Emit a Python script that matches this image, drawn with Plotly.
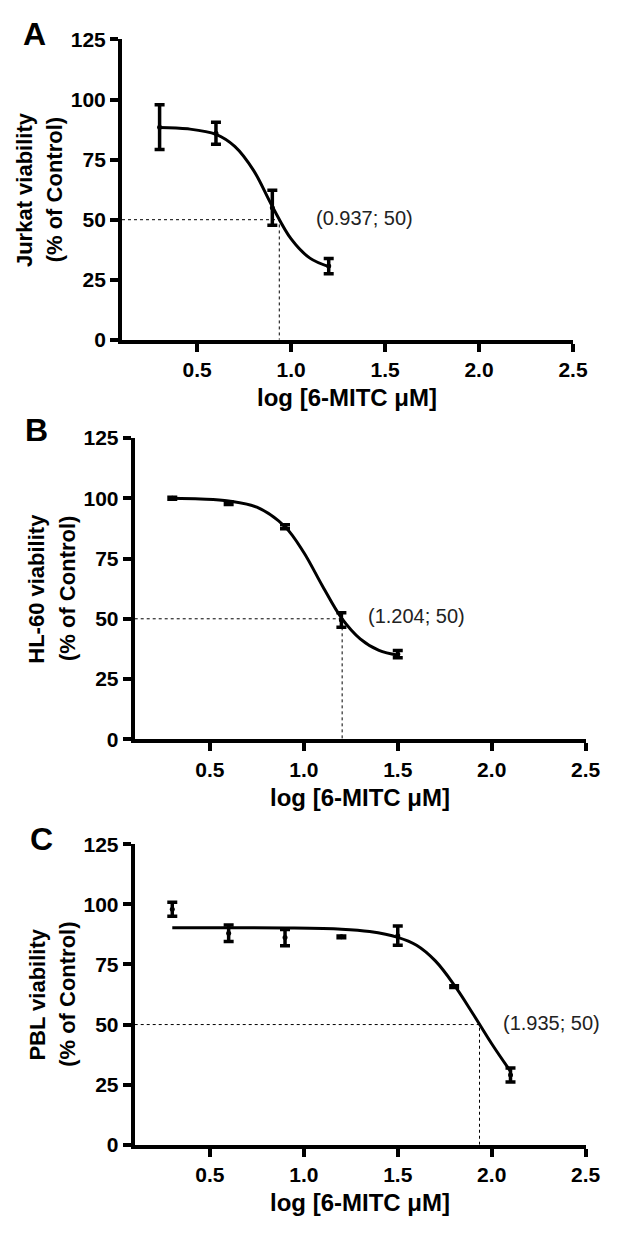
import plotly.graph_objects as go

# 数据: log 浓度, 平均值, 误差
dose_a = [0.3, 0.6, 0.9, 1.2]
mean_a = [88.5, 86.0, 55.0, 30.7]
err_a = [9.3, 4.6, 7.3, 3.2]

dose_b = [0.3, 0.6, 0.9, 1.2, 1.5]
mean_b = [100.0, 98.0, 88.2, 49.5, 35.3]
err_b = [0.4, 0.6, 0.8, 3.0, 1.5]

dose_c = [0.3, 0.6, 0.9, 1.2, 1.5, 1.8, 2.1]
mean_c = [98.0, 88.0, 86.2, 86.5, 87.0, 65.8, 29.0]
err_c = [2.9, 3.4, 3.4, 0.4, 4.0, 0.4, 2.9]

# 拟合曲线 (从图中读取的点)
fit_x_a = [0.3, 0.45, 0.6, 0.7, 0.8, 0.9, 1.0, 1.1, 1.2]
fit_y_a = [88.4, 87.8, 85.5, 80.5, 70.5, 55.5, 42.0, 34.0, 30.5]

fit_x_b = [0.3, 0.45, 0.6, 0.75, 0.9, 1.0, 1.1, 1.2, 1.3, 1.4, 1.5]
fit_y_b = [100.0, 99.7, 98.9, 96.3, 88.2, 77.5, 63.5, 50.4, 41.7, 36.9, 34.9]

fit_x_c = [0.3, 0.6, 0.9, 1.2, 1.35, 1.5, 1.6, 1.7, 1.8, 1.9, 2.0, 2.1]
fit_y_c = [90.3, 90.3, 90.2, 89.7, 88.7, 86.3, 83.0, 76.5, 66.5, 54.5, 42.0, 30.5]

ic50 = [0.937, 1.204, 1.935]
cell_lines = ["Jurkat", "HL-60", "PBL"]
letters = ["A", "B", "C"]

x_ticks = [0.5, 1.0, 1.5, 2.0, 2.5]
x_ticktext = ["0.5", "1.0", "1.5", "2.0", "2.5"]
y_ticks = [0, 25, 50, 75, 100, 125]

panels = [
    (dose_a, mean_a, err_a, fit_x_a, fit_y_a),
    (dose_b, mean_b, err_b, fit_x_b, fit_y_b),
    (dose_c, mean_c, err_c, fit_x_c, fit_y_c),
]

W, H = 628, 1246
FONT = "Liberation Sans, Arial, sans-serif"


def px(x):
    return x / W


def py(y):
    return 1 - y / H


# 每个面板的绘图区 (左, 右, 上, 下) 像素
boxes = [(125, 587, 28, 334), (138, 600, 434, 741), (138, 600, 848, 1154)]
letter_pos = [(35, 22), (37, 426), (43, 843)]
label_pos = [(1.123, 50.6), (1.329, 51.3), (2.048, 50.8)]

fig = go.Figure()
annotations = []
layout = {}

for i, (dose, mean, err, fx, fy) in enumerate(panels):
    n = "" if i == 0 else str(i + 1)
    xa, ya = "x" + n, "y" + n

    # IC50 虚线
    fig.add_trace(go.Scatter(
        x=[0.1, ic50[i], ic50[i]], y=[50, 50, 0], mode="lines",
        line=dict(color="black", width=1, dash="dot"),
        xaxis=xa, yaxis=ya, showlegend=False, hoverinfo="skip"))

    # 拟合曲线
    fig.add_trace(go.Scatter(
        x=fx, y=fy, mode="lines",
        line=dict(color="black", width=3, shape="spline"),
        xaxis=xa, yaxis=ya, showlegend=False))

    # 数据点与误差棒
    fig.add_trace(go.Scatter(
        x=dose, y=mean, mode="markers",
        marker=dict(color="black", size=5),
        error_y=dict(type="data", array=err, visible=True,
                     color="black", thickness=3.5, width=5),
        xaxis=xa, yaxis=ya, showlegend=False))

    l, r, t, b = boxes[i]
    layout["xaxis" + n] = dict(
        domain=[px(l), px(r)], anchor=ya, range=[0.1, 2.5],
        tickvals=x_ticks, ticktext=x_ticktext,
        showline=True, linewidth=4, linecolor="black",
        ticks="outside", ticklen=8, tickwidth=3.5, tickcolor="black",
        showgrid=False, zeroline=False,
        tickfont=dict(family=FONT, size=21, color="black", weight="bold"))
    layout["yaxis" + n] = dict(
        domain=[py(b), py(t)], anchor=xa, range=[0, 125],
        tickvals=y_ticks,
        showline=True, linewidth=4, linecolor="black",
        ticks="outside", ticklen=8, tickwidth=3.5, tickcolor="black",
        showgrid=False, zeroline=False,
        tickfont=dict(family=FONT, size=21, color="black", weight="bold"))

    # IC50 标注
    annotations.append(dict(
        x=label_pos[i][0], y=label_pos[i][1], xref=xa, yref=ya,
        text=f"({ic50[i]:.3f}; 50)", showarrow=False,
        xanchor="left", yanchor="middle",
        font=dict(family=FONT, size=20, color="#222")))

    # 坐标轴标题
    annotations.append(dict(
        x=px((l + r) / 2), y=py(b + 59), xref="paper", yref="paper",
        text="log [6-MITC μM]", showarrow=False,
        xanchor="center", yanchor="middle",
        font=dict(family=FONT, size=24, color="black", weight="bold")))
    annotations.append(dict(
        x=px(l - 100), y=py((t + b) / 2), xref="paper", yref="paper",
        text=f"{cell_lines[i]} viability", showarrow=False, textangle=-90,
        xanchor="center", yanchor="middle",
        font=dict(family=FONT, size=22, color="black", weight="bold")))
    annotations.append(dict(
        x=px(l - 69), y=py((t + b) / 2), xref="paper", yref="paper",
        text="(% of Control)", showarrow=False, textangle=-90,
        xanchor="center", yanchor="middle",
        font=dict(family=FONT, size=22, color="black", weight="bold")))

    # 面板字母
    annotations.append(dict(
        x=px(letter_pos[i][0]), y=py(letter_pos[i][1]),
        xref="paper", yref="paper", text=letters[i], showarrow=False,
        xanchor="center", yanchor="middle",
        font=dict(family=FONT, size=32, color="black", weight="bold")))

fig.update_layout(
    width=W, height=H,
    margin=dict(l=0, r=0, t=0, b=0),
    plot_bgcolor="white", paper_bgcolor="white",
    annotations=annotations,
    **layout)

# 去掉页面默认边距, 隐藏工具栏
fig.write_html("out.html", config={"displayModeBar": False},
               post_script="document.body.style.margin='0';")
